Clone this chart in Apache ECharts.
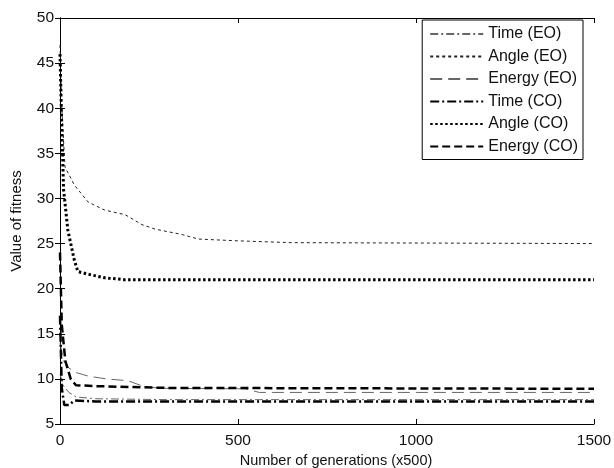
<!DOCTYPE html>
<html>
<head>
<meta charset="utf-8">
<script src="https://cdn.jsdelivr.net/npm/echarts@6/dist/echarts.min.js"></script>
<style>
  html, body { margin: 0; padding: 0; background: #fff; }
  #chart { width: 614px; height: 468px; }
</style>
</head>
<body>
<div id="chart"></div>
<script>
// generation (x500), fitness pairs
var timeEO = [[0, 10.5], [10, 9.2], [25, 8.5], [45, 8.0], [100, 7.8], [300, 7.7], [1500, 7.7]];
var angleEO = [[0, 47], [5, 40], [14, 33.5], [40, 31.5], [79, 29.6], [126, 28.7], [183, 28.2], [230, 27.1],
  [267, 26.6], [343, 26.0], [388, 25.5], [500, 25.3], [650, 25.1], [1500, 25.0]];
var energyEO = [[0, 14], [10, 12], [25, 11.2], [45, 10.7], [80, 10.3], [130, 10.0], [190, 9.8], [240, 9.1],
  [300, 8.95], [520, 8.9], [560, 8.5], [1500, 8.5]];
var timeCO = [[0, 17], [5, 9], [12, 7.1], [25, 7.1], [40, 7.6], [100, 7.5], [1500, 7.5]];
var angleCO = [[0, 46], [5, 38], [10, 31], [22, 26.5], [40, 23.2], [50, 21.9], [79, 21.6], [126, 21.2],
  [180, 21.0], [1500, 21.0]];
var energyCO = [[0, 24], [5, 16], [15, 12], [30, 10], [45, 9.3], [100, 9.2], [300, 9.0], [1500, 8.9]];

var names = ['Time (EO)', 'Angle (EO)', 'Energy (EO)', 'Time (CO)', 'Angle (CO)', 'Energy (CO)'];

var txt = '#111';
var font = 'Liberation Sans, Arial, sans-serif';

function line(name, data, color, width, dash) {
  return {
    name: name,
    type: 'line',
    data: data,
    symbol: 'none',
    legendIcon: 'none',
    xAxisIndex: 0,
    yAxisIndex: 0,
    lineStyle: { color: color, width: width, type: dash },
    itemStyle: { color: color },
    animation: false
  };
}

var chart = echarts.init(document.getElementById('chart'));
chart.setOption({
  backgroundColor: '#fff',
  animation: false,
  textStyle: { fontFamily: font },
  grid: { left: 60, right: 20, top: 18, bottom: 44, outerBoundsMode: 'none', containLabel: false },
  legend: {
    data: names,
    orient: 'vertical',
    right: 31,
    top: 20,
    itemWidth: 53,
    itemHeight: 12,
    itemGap: 6.5,
    padding: [6, 5, 5, 7],
    borderColor: '#000',
    borderWidth: 1,
    backgroundColor: '#fff',
    itemStyle: { opacity: 0 },
    textStyle: { color: txt, fontSize: 16, fontFamily: font }
  },
  xAxis: [{
    type: 'value', min: 0, max: 1500, interval: 500,
    name: 'Number of generations (x500)',
    nameLocation: 'middle', nameGap: 28,
    nameTextStyle: { color: txt, fontSize: 14.5, padding: [0, 0, 0, 18] },
    axisLine: { lineStyle: { color: '#000' } },
    axisTick: { inside: true, length: 5, lineStyle: { color: '#000' } },
    axisLabel: { color: txt, fontSize: 15.5, margin: 9, formatter: function (v) { return String(v); } },
    splitLine: { show: false }
  }, {
    type: 'value', min: 0, max: 1500, interval: 500, position: 'top',
    axisLine: { lineStyle: { color: '#000' } },
    axisTick: { inside: true, length: 5, lineStyle: { color: '#000' } },
    axisLabel: { show: false },
    splitLine: { show: false }
  }],
  yAxis: [{
    type: 'value', min: 5, max: 50, interval: 5,
    name: 'Value of fitness',
    nameLocation: 'middle', nameGap: 36, nameRotate: 90,
    nameTextStyle: { color: txt, fontSize: 15 },
    axisLine: { show: true, lineStyle: { color: '#000' } },
    axisTick: { inside: true, length: 5, lineStyle: { color: '#000' } },
    axisLabel: { color: txt, fontSize: 15.5, margin: 6 },
    splitLine: { show: false }
  }, {
    type: 'value', min: 5, max: 50, interval: 5, position: 'right',
    axisLine: { show: true, lineStyle: { color: '#000' } },
    axisTick: { inside: true, length: 5, lineStyle: { color: '#000' } },
    axisLabel: { show: false },
    splitLine: { show: false }
  }],
  series: [
    line(names[0], timeEO, '#666', 1, [8, 3, 2, 3]),
    line(names[1], angleEO, '#222', 1, [3, 3]),
    line(names[2], energyEO, '#666', 1, [12, 6]),
    line(names[3], timeCO, '#000', 2.5, [9, 3, 2, 3]),
    line(names[4], angleCO, '#000', 3, [2.5, 2.5]),
    line(names[5], energyCO, '#000', 2.5, [8, 4])
  ]
});
</script>
</body>
</html>
